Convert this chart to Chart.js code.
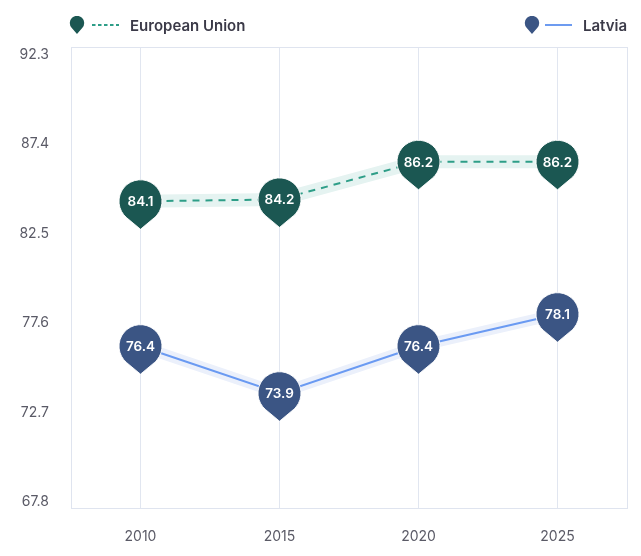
<!DOCTYPE html>
<html>
<head>
<meta charset="utf-8">
<script src="https://cdn.jsdelivr.net/npm/chart.js@4"></script>
<style>
  html, body { margin: 0; padding: 0; background: #fff; }
  #wrap { position: relative; width: 641px; height: 556px; }
  #legend { position: absolute; left: 0; top: 0; width: 641px; height: 46px; font-family: Inter, sans-serif; }
  .item { position: absolute; top: 14px; height: 22px; display: flex; align-items: center; }
  .item span { font-size: 15px; font-weight: 600; color: #3b3a48; }
  .item svg { display: block; }
</style>
</head>
<body>
<div id="wrap">
  <canvas id="chart" width="641" height="556"></canvas>
  <div id="legend">
    <div class="item" style="left:69px">
      <svg width="16" height="19" viewBox="0 0 16 19"><path d="M8 18 L2.6 11.8 A7.2 7.2 0 1 1 13.4 11.8 Z" fill="#1b5752"/></svg>
      <svg width="44" height="4" viewBox="0 0 44 4"><line x1="7" y1="2" x2="34" y2="2" stroke="#2e9e88" stroke-width="2" stroke-dasharray="3.5,2.5"/></svg>
      <span style="margin-left:1px">European Union</span>
    </div>
    <div class="item" style="left:524px">
      <svg width="16" height="19" viewBox="0 0 16 19"><path d="M8 18 L2.6 11.8 A7.2 7.2 0 1 1 13.4 11.8 Z" fill="#3b5584"/></svg>
      <svg width="44" height="4" viewBox="0 0 44 4"><line x1="5" y1="2" x2="32" y2="2" stroke="#6d9bf0" stroke-width="2"/></svg>
      <span style="margin-left:-1px">Latvia</span>
    </div>
  </div>
</div>
<script>
const years = ['2010', '2015', '2020', '2025'];
const euValues = [84.1, 84.2, 86.2, 86.2];
const latviaValues = [76.4, 73.9, 76.4, 78.1];
const yTicks = [67.8, 72.7, 77.6, 82.5, 87.4, 92.3];

const FONT = 'Inter, sans-serif';
const Y_MIN = yTicks[0];
const Y_MAX = yTicks[yTicks.length - 1];

// pins with value inside, drawn on top of the lines
const pinPlugin = {
    id: 'pins',
    afterDatasetsDraw(chart) {
        const ctx = chart.ctx;
        chart.data.datasets.forEach((ds, i) => {
            if (!ds.pinColor) return;
            const meta = chart.getDatasetMeta(i);
            meta.data.forEach((pt, j) => {
                const x = pt.x, y = pt.y;
                const r = 21.5, tip = 28;
                const a = Math.acos(r / tip);
                ctx.save();
                ctx.beginPath();
                ctx.moveTo(x, y + tip);
                ctx.arc(x, y, r, Math.PI / 2 + a, Math.PI / 2 - a + Math.PI * 2);
                ctx.closePath();
                ctx.fillStyle = ds.pinColor;
                ctx.strokeStyle = 'rgba(255,255,255,0.9)';
                ctx.lineWidth = 1;
                ctx.fill();
                ctx.stroke();
                ctx.fillStyle = '#ffffff';
                ctx.font = '600 13.5px ' + FONT;
                ctx.textAlign = 'center';
                ctx.textBaseline = 'middle';
                ctx.fillText(ds.data[j].toFixed(1), x, y + 1);
                ctx.restore();
            });
        });
    }
};

// frame round the plot area
const framePlugin = {
    id: 'frame',
    beforeDatasetsDraw(chart) {
        const { ctx, chartArea: a } = chart;
        ctx.save();
        ctx.strokeStyle = '#dfe4ef';
        ctx.lineWidth = 1;
        ctx.strokeRect(Math.round(a.left) + 0.5, Math.round(a.top) + 0.5, Math.round(a.right - a.left), Math.round(a.bottom - a.top));
        ctx.restore();
    }
};

new Chart(document.getElementById('chart'), {
    type: 'line',
    data: {
        labels: years,
        datasets: [
            { data: euValues, borderColor: '#2e9e88', borderWidth: 2, borderDash: [7, 6], pointRadius: 0, tension: 0, pinColor: '#1b5752', order: 1 },
            { data: euValues, borderColor: '#e5f3f1', borderWidth: 13, pointRadius: 0, tension: 0, order: 3 },
            { data: latviaValues, borderColor: '#6a9af2', borderWidth: 2, pointRadius: 0, tension: 0, pinColor: '#3b5584', order: 0 },
            { data: latviaValues, borderColor: '#ebf0fb', borderWidth: 11, pointRadius: 0, tension: 0, order: 2 }
        ]
    },
    options: {
        responsive: false,
        animation: false,
        layout: { padding: { top: 47, right: 14, left: 0, bottom: 0 } },
        plugins: {
            legend: { display: false },
            tooltip: { enabled: false }
        },
        scales: {
            x: {
                offset: true,
                border: { display: false },
                grid: { color: '#e1e6f0', drawTicks: false, offset: false },
                ticks: { padding: 20, color: '#5a5a66', font: { family: FONT, size: 14 } },
                afterFit(scale) { scale.height = 48; }
            },
            y: {
                min: Y_MIN,
                max: Y_MAX,
                border: { display: false },
                grid: { display: false, drawTicks: false },
                // labels sit slightly inside the range ends, as in the original
                afterBuildTicks(scale) {
                    const span = Y_MAX - Y_MIN;
                    const lo = Y_MIN + 0.32, hi = Y_MAX - 0.39;
                    scale.ticks = yTicks.map(v => ({ value: lo + (v - Y_MIN) / span * (hi - lo) }));
                },
                ticks: {
                    padding: 22,
                    color: '#5a5a66',
                    font: { family: FONT, size: 14 },
                    callback: (v, i) => yTicks[i].toFixed(1)
                },
                afterFit(scale) { scale.width = 71; }
            }
        }
    },
    plugins: [framePlugin, pinPlugin]
});
</script>
</body>
</html>
